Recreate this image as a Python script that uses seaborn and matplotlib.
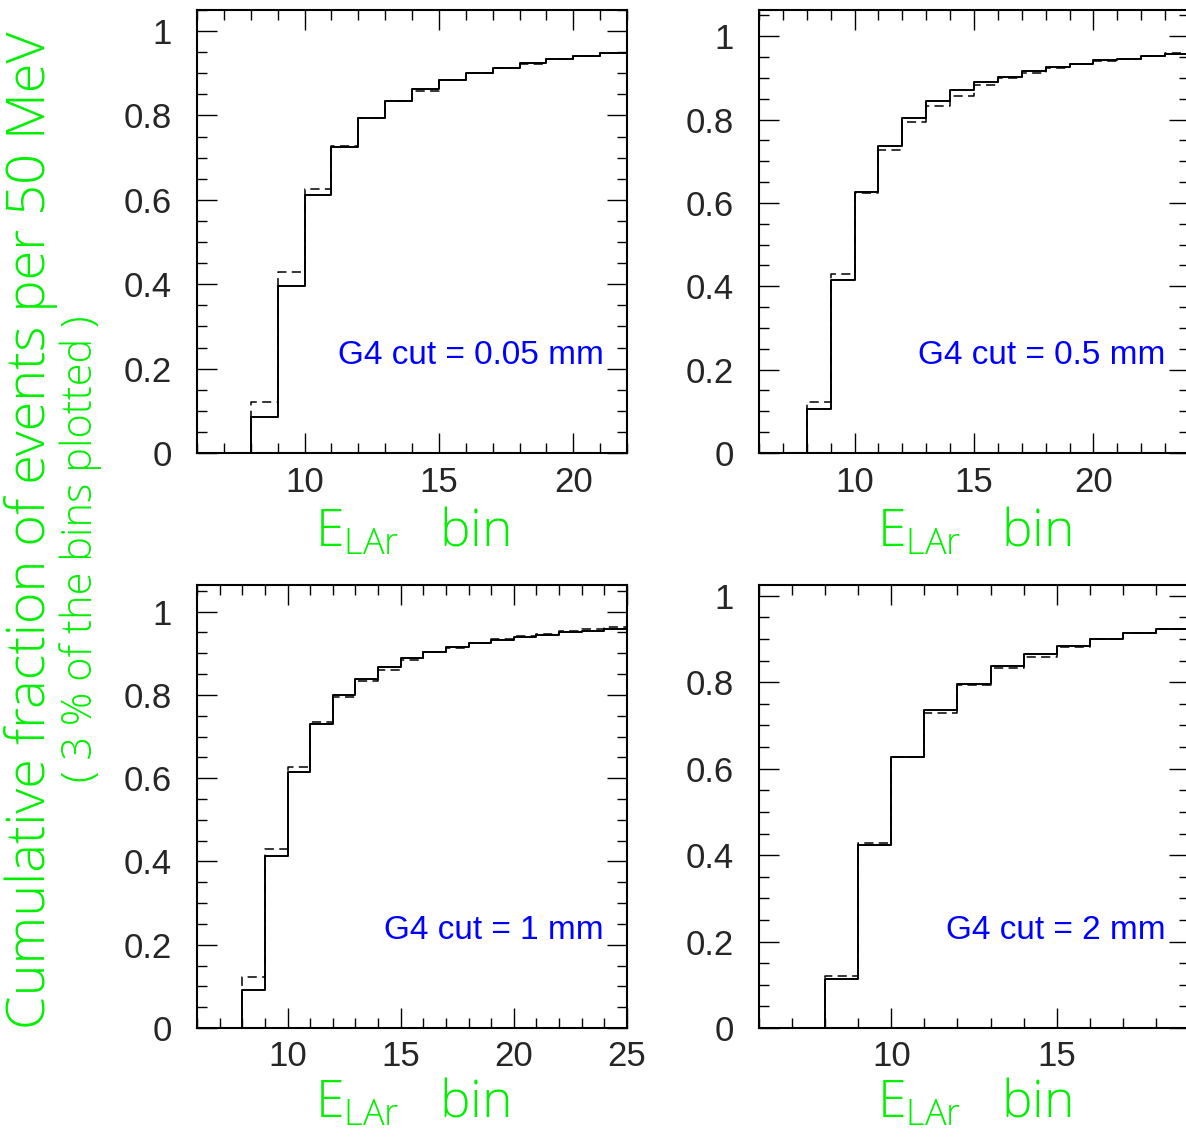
import numpy as np
import pandas as pd
import matplotlib
matplotlib.use("Agg")
import matplotlib.pyplot as plt
import seaborn as sns
from matplotlib.ticker import MultipleLocator, FuncFormatter

# ---------------- data ----------------
cut_labels = ["G4 cut = 0.05 mm", "G4 cut = 0.5 mm", "G4 cut = 1 mm", "G4 cut = 2 mm"]
x_min = 6
x_max = [22, 24, 25, 19]
y_top = [1.05, 1.063, 1.064, 1.025]

solid_005 = [0, 0, 0.085, 0.396, 0.611, 0.726, 0.793, 0.835, 0.863, 0.883,
             0.901, 0.913, 0.925, 0.934, 0.940, 0.947]
dashed_005 = [0, 0, 0.122, 0.429, 0.626, 0.728, 0.795, 0.835, 0.858, 0.883,
              0.901, 0.912, 0.923, 0.935, 0.942, 0.949]

solid_05 = [0, 0, 0.106, 0.416, 0.627, 0.736, 0.803, 0.845, 0.870, 0.890,
            0.903, 0.916, 0.926, 0.934, 0.942, 0.946, 0.953, 0.958]
dashed_05 = [0, 0, 0.122, 0.429, 0.625, 0.727, 0.794, 0.833, 0.857, 0.882,
             0.900, 0.911, 0.923, 0.933, 0.940, 0.946, 0.953, 0.959]

solid_1 = [0, 0, 0.091, 0.412, 0.616, 0.731, 0.799, 0.838, 0.868, 0.889,
           0.904, 0.914, 0.925, 0.933, 0.938, 0.944, 0.950, 0.954, 0.959]
dashed_1 = [0, 0, 0.122, 0.430, 0.627, 0.735, 0.796, 0.833, 0.860, 0.883,
            0.902, 0.913, 0.924, 0.935, 0.941, 0.947, 0.954, 0.959, 0.962]

solid_2 = [0, 0, 0.114, 0.423, 0.627, 0.736, 0.797, 0.838, 0.866, 0.885,
           0.901, 0.913, 0.923]
dashed_2 = [0, 0, 0.121, 0.428, 0.627, 0.728, 0.794, 0.832, 0.858, 0.881,
            0.901, 0.913, 0.923]

solids = [solid_005, solid_05, solid_1, solid_2]
dasheds = [dashed_005, dashed_05, dashed_1, dashed_2]

ytick_labels = ["0", "0.2", "0.4", "0.6", "0.8", "1"]

# ---------------- figure ----------------
sns.set_style("white")
plt.rcParams["font.family"] = ["Liberation Sans", "DejaVu Sans"]
plt.rcParams["mathtext.default"] = "regular"

W, H = 1186, 1138
fig = plt.figure(figsize=(W / 100, H / 100), dpi=100)

# axes boxes in pixels: left, top, right, bottom
boxes = [(197, 10, 627, 453), (759, 10, 1189, 453),
         (197, 585, 627, 1028), (759, 585, 1189, 1028)]

green = "#00f000"
label_font = dict(family=["Open Sans", "DejaVu Sans"], weight="light", color=green)

for i, (l, t, r, b) in enumerate(boxes):
    ax = fig.add_axes([l / W, 1 - b / H, (r - l) / W, (b - t) / H])
    n = x_max[i] - x_min
    centers = x_min + 0.5 + np.arange(n)
    df = pd.DataFrame({"bin": centers, "solid": solids[i], "dashed": dasheds[i]})
    sns.histplot(data=df, x="bin", weights="solid", binwidth=1,
                 binrange=(x_min, x_max[i]), element="step",
                 fill=False, color="black", linewidth=1.4, ax=ax)
    sns.histplot(data=df, x="bin", weights="dashed", binwidth=1,
                 binrange=(x_min, x_max[i]), element="step",
                 fill=False, color="black", linewidth=1.1,
                 linestyle=(0, (6, 3.5)), ax=ax)
    ax.set_xlim(x_min, x_max[i])
    ax.set_ylim(0, y_top[i])

    ax.xaxis.set_major_locator(MultipleLocator(5))
    ax.xaxis.set_minor_locator(MultipleLocator(1))
    ax.yaxis.set_major_locator(MultipleLocator(0.2))
    ax.yaxis.set_minor_locator(MultipleLocator(0.05))
    ax.yaxis.set_major_formatter(
        FuncFormatter(lambda v, p: ytick_labels[int(round(v / 0.2))]
                      if 0 <= round(v / 0.2) < len(ytick_labels) else ""))
    ax.tick_params(which="both", direction="in", top=True, right=True,
                   bottom=True, left=True, color="black", width=1.0)
    ax.tick_params(which="major", length=14.5)
    ax.tick_params(which="minor", length=7.2)
    ax.tick_params(axis="x", which="major", pad=9, labelsize=25)
    ax.tick_params(axis="y", which="major", pad=18, labelsize=25)
    for s in ax.spines.values():
        s.set_linewidth(1.5)
        s.set_color("black")

    ax.set_ylabel("")
    ax.set_xlabel("E$_{LAr}$   bin", fontsize=37, labelpad=6 if i < 2 else 3,
                  **label_font)

    ax.text(0.946, 0.2, cut_labels[i], transform=ax.transAxes, ha="right",
            va="baseline", color="#0000ff", fontsize=24,
            family=["Liberation Sans", "DejaVu Sans"])

fig.text(31 / W, 0.534, "Cumulative fraction of events per 50 MeV",
         rotation=90, ha="center", va="center", fontsize=39, **label_font)
fig.text(81 / W, 0.518, "( 3 % of the bins plotted )",
         rotation=90, ha="center", va="center", fontsize=30, **label_font)

fig.savefig("out.png", dpi=100)
